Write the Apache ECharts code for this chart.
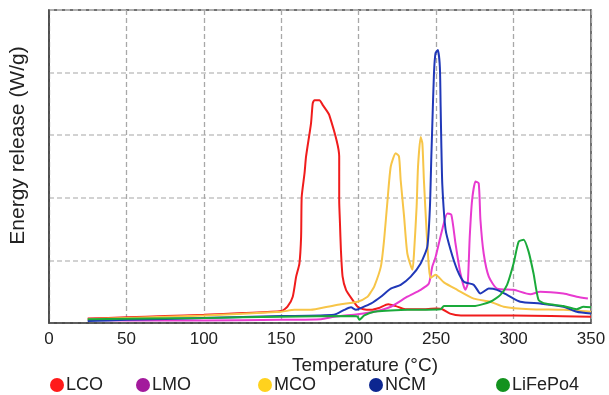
<!DOCTYPE html>
<html>
<head>
<meta charset="utf-8">
<script src="https://cdn.jsdelivr.net/npm/echarts@6/dist/echarts.min.js"></script>
<style>
  html, body { margin: 0; padding: 0; background: #fff; }
  #chart { width: 609px; height: 395px; }
</style>
</head>
<body>
<div id="chart"></div>
<script>
// [temperature °C, energy release W/g]
const lcoData = [
  [25, 0.07], [50, 0.09], [75, 0.11], [100, 0.13], [125, 0.16], [150, 0.19], [154, 0.26], [157.4, 0.42],
  [159.6, 0.74], [161.7, 0.95], [162.8, 1.38], [163.2, 2.02], [165, 2.39], [166, 2.66], [169.2, 3.19],
  [170.3, 3.51], [171.4, 3.56], [174.6, 3.56], [176.8, 3.48], [181, 3.32], [187.4, 2.66], [187.4, 1.96],
  [187.9, 1.59], [188.5, 1.17], [189.6, 0.74], [191.8, 0.53], [196, 0.37], [199.3, 0.26], [203, 0.22],
  [208, 0.21], [213, 0.24], [219, 0.3], [224, 0.27], [230, 0.22], [240, 0.22], [250, 0.23], [254, 0.22],
  [259, 0.15], [266, 0.12], [300, 0.12], [350, 0.1]
]
const lmoData = [
  [25, 0.05], [50, 0.04], [100, 0.04], [150, 0.05], [175.7, 0.06], [184.2, 0.1], [199.3, 0.14], [210, 0.18],
  [220.7, 0.26], [231.4, 0.42], [240, 0.53], [245.3, 0.63], [247.5, 0.9], [249.6, 1.05], [253.9, 1.49],
  [257.2, 1.75], [259.8, 1.73], [262.5, 1.27], [265.7, 0.79], [268.9, 0.53], [270.4, 0.63], [271.7, 1.38],
  [273.2, 1.96], [275.4, 2.26], [277.5, 2.23], [278.6, 1.65], [280.7, 1.11], [284, 0.74], [289.3, 0.55],
  [300, 0.53], [310.8, 0.46], [317.2, 0.5], [332.2, 0.47], [340.8, 0.42], [348, 0.39]
]
const mcoData = [
  [25, 0.06], [50, 0.08], [100, 0.12], [150, 0.18], [158.5, 0.21], [169, 0.21], [180, 0.26], [188.5, 0.3],
  [199.3, 0.34], [205.7, 0.42], [208, 0.5], [210, 0.58], [214.3, 0.9], [216.4, 1.33], [218.6, 1.96],
  [220.7, 2.5], [223.9, 2.71], [226, 2.66], [227.1, 2.28], [229.3, 1.7], [231.4, 1.11], [234.7, 0.85],
  [235.7, 1.11], [237.4, 1.86], [238.3, 2.5], [240, 2.97], [241.1, 2.87], [242.1, 2.28], [243.9, 1.43],
  [245.3, 0.9], [246.4, 0.72], [249.6, 0.77], [255, 0.65], [263.6, 0.53], [274.3, 0.39], [285, 0.34],
  [293.6, 0.26], [310.8, 0.22], [332.2, 0.21], [350, 0.18]
]
const ncmData = [
  [25, 0.03], [50, 0.05], [100, 0.08], [150, 0.11], [184, 0.13], [190.7, 0.21], [195, 0.25], [198.2, 0.21],
  [201.4, 0.24], [207.8, 0.31], [214.3, 0.42], [220.7, 0.55], [227.1, 0.61], [233.6, 0.74], [240, 0.95],
  [244.3, 1.22], [246, 1.86], [246.9, 2.66], [247.5, 3.14], [248.6, 3.99], [249.6, 4.31], [251.1, 4.36],
  [252.4, 4.09], [252.9, 3.46], [253.3, 2.92], [254, 2.2], [256.1, 1.49], [259.3, 1.17], [263.6, 0.85],
  [267.9, 0.66], [274.3, 0.61], [278.6, 0.47], [284, 0.55], [289.3, 0.53], [295.8, 0.45], [304.3, 0.34],
  [317.2, 0.31], [332.2, 0.26], [340.8, 0.18], [350, 0.15]
]
const lfpData = [
  [25, 0.06], [100, 0.08], [150, 0.1], [196, 0.11], [199.3, 0.1], [200.4, 0.05], [203.6, 0.12], [210, 0.18],
  [231.4, 0.21], [252.9, 0.22], [255, 0.27], [274.3, 0.27], [285, 0.34], [291.5, 0.45], [295.8, 0.61],
  [300, 0.95], [303.3, 1.3], [306.5, 1.33], [309.7, 1.14], [312.9, 0.79], [316.1, 0.37], [320.4, 0.31],
  [332.2, 0.27], [340.8, 0.22], [345.1, 0.26], [350, 0.25]
]

const names = ['LCO', 'LMO', 'MCO', 'NCM', 'LiFePo4']
const seriesData = [lcoData, lmoData, mcoData, ncmData, lfpData]
const lineColors = ['#f01c1c', '#e83ad0', '#f7c548', '#2038b8', '#1aaa3a']
const legendColors = ['#ff1a1a', '#a31a9c', '#ffd21e', '#0c2690', '#13921e']
const legendLeft = [50, 136, 258, 369, 496]

const chart = echarts.init(document.getElementById('chart'))

chart.setOption({
  backgroundColor: '#fff',
  textStyle: { fontFamily: 'Liberation Sans, Arial, sans-serif' },
  animation: false,
  grid: {
    left: 47,
    right: 18,
    top: 10,
    bottom: 72,
    show: true,
    borderColor: '#444',
    borderWidth: 1.5,
  },
  // one legend per item, the spacing in the picture is uneven
  legend: names.map((n, i) => ({
    left: legendLeft[i],
    top: 376,
    icon: 'circle',
    itemWidth: 14,
    itemHeight: 14,
    padding: 0,
    selectedMode: false,
    textStyle: { fontSize: 18, color: '#222', padding: [0, 0, 0, -3] },
    data: [{ name: n, itemStyle: { color: legendColors[i] } }],
  })),
  xAxis: {
    type: 'value',
    min: 0,
    max: 350,
    interval: 50,
    name: 'Temperature (°C)',
    nameLocation: 'middle',
    nameGap: 33,
    nameTextStyle: { fontSize: 19, color: '#222', padding: [0, 0, 0, 90] },
    axisLine: { show: true, lineStyle: { color: '#444', width: 1.5 } },
    axisTick: { show: false },
    axisLabel: { fontSize: 17, color: '#222', margin: 8 },
    splitLine: { show: true, lineStyle: { color: '#a8a8a8', type: [5, 3], width: 1.3 } },
  },
  yAxis: {
    type: 'value',
    min: 0,
    max: 5,
    interval: 1,
    name: 'Energy release (W/g)',
    nameLocation: 'middle',
    nameGap: 20,
    nameTextStyle: { fontSize: 21, color: '#222', padding: [0, 0, 0, 42] },
    axisLine: { show: true, lineStyle: { color: '#444', width: 1.5 } },
    axisTick: { show: false },
    axisLabel: { show: false },
    splitLine: { show: true, lineStyle: { color: '#c4c4c4', type: [5, 3], width: 1.5 } },
  },
  series: names.map((n, i) => ({
    name: n,
    type: 'line',
    data: seriesData[i],
    showSymbol: false,
    smooth: 0.2,
    clip: true,
    lineStyle: { color: lineColors[i], width: 2 },
    itemStyle: { color: legendColors[i] },
  })),
})

window.addEventListener('resize', () => chart.resize())
</script>
</body>
</html>
